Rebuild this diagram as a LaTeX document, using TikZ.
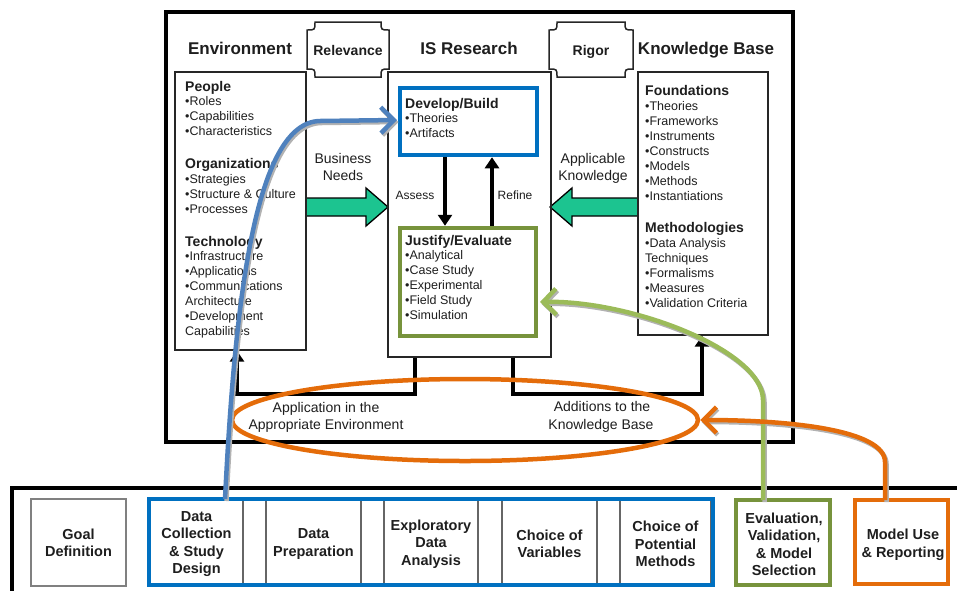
\documentclass[tikz,border=0pt]{standalone}
\usepackage{fontspec}
\setmainfont{Liberation Sans}
\usetikzlibrary{arrows.meta,shapes.geometric}
\definecolor{txt}{HTML}{1E1E1E}
\definecolor{boxblue}{HTML}{0070C0}
\definecolor{curveblue}{HTML}{4F81BD}
\definecolor{boxgreen}{HTML}{77933C}
\definecolor{curvegreen}{HTML}{9BBB59}
\definecolor{orng}{HTML}{E46C0A}
\definecolor{blockgreen}{HTML}{1CC490}
\begin{document}
\begin{tikzpicture}[x=1pt,y=-1pt,
  hd/.style={font=\fontsize{17}{20}\selectfont\bfseries, text=txt, inner sep=0, anchor=base},
  sub/.style={font=\fontsize{14}{15}\selectfont\bfseries, text=txt, inner sep=0, anchor=base west},
  itm/.style={font=\fontsize{12.5}{15}\selectfont, text=txt, inner sep=0, anchor=base west},
  lbl/.style={font=\fontsize{14}{16}\selectfont, text=txt, inner sep=0, anchor=base},
  small/.style={font=\fontsize{12}{14}\selectfont, text=txt, inner sep=0, anchor=base},
  tag/.style={font=\fontsize{14}{16}\selectfont\bfseries, text=txt, inner sep=0, anchor=base},
  frame/.style={draw=black, line width=4pt},
  panel/.style={draw=black!85, line width=1.3pt, rectangle, inner sep=0},
  colbox/.style={rectangle, line width=4.5pt, inner sep=0},
  plaque/.style={draw=black!85, line width=1.5pt},
  blockarrow/.style={fill=blockgreen, draw=black, line width=1.3pt},
  fb/.style={draw=black, line width=3.5pt, -{Triangle[length=11pt,width=14pt]}},
  stepbox/.style={rectangle, draw=black!60, line width=1.2pt, inner sep=0},
  steptxt/.style={inner sep=0, align=center, yshift=-2pt,
     font=\fontsize{14.5}{17.5}\selectfont\bfseries, text=txt},
  curve/.style={line width=4.5pt, -{Straight Barb[length=13pt,width=26pt]}},
  shadowline/.style={line width=4.5pt, draw=black!30, -{Straight Barb[length=13pt,width=26pt]}}
]
\useasboundingbox (0,0) rectangle (957,590);

% ---------- top frame ----------
\draw[frame] (166,12) rectangle (793,442);

% headings
\node[hd] (henv) at (240,54.5) {Environment};
\node[hd] (his) at (469,54.5) {IS Research};
\node[hd] (hkb) at (706,54.5) {Knowledge Base};

% plaques
\draw[plaque] (315,22) -- (381,22) .. controls (381,30) .. (389,30) -- (389,69)
  .. controls (381,69) .. (381,77) -- (315,77) .. controls (315,69) .. (307,69)
  -- (307,30) .. controls (315,30) .. (315,22) -- cycle;
\node[tag] (relev) at (348,55) {Relevance};
\draw[plaque] (557,22) -- (625,22) .. controls (625,30) .. (633,30) -- (633,69)
  .. controls (625,69) .. (625,77) -- (557,77) .. controls (557,69) .. (549,69)
  -- (549,30) .. controls (557,30) .. (557,22) -- cycle;
\node[tag] (rigor) at (591,55) {Rigor};

% block arrows
\draw[blockarrow] (306,198) -- (366,198) -- (366,188) -- (388,207) -- (366,226) -- (366,216) -- (306,216) -- cycle;
\draw[blockarrow] (638,198) -- (572,198) -- (572,188) -- (550,207) -- (572,226) -- (572,216) -- (638,216) -- cycle;

% panels
\node[panel, minimum width=131pt, minimum height=278pt] (env) at (240.5,211) {};
\node[panel, minimum width=163pt, minimum height=285pt] (isr) at (469.5,214.5) {};
\node[panel, minimum width=130pt, minimum height=263pt] (kb) at (703,203.5) {};
\node[colbox, draw=boxblue, minimum width=137pt, minimum height=67pt] (dev) at (468.5,121.5) {};
\node[colbox, draw=boxgreen, minimum width=136pt, minimum height=108pt] (just) at (468,282) {};

% environment texts
\node[sub] (people) at (185,91) {People};
\foreach \t [count=\i] in {•Roles,•Capabilities,•Characteristics}
  \node[itm] (peo\i) at (185,{90.5+15*\i}) {\t};
\node[sub] (orgs) at (185,168) {Organizations};
\foreach \t [count=\i] in {•Strategies,•Structure \& Culture,•Processes}
  \node[itm] (org\i) at (185,{168.5+15*\i}) {\t};
\node[sub] (tech) at (185,246) {Technology};
\foreach \t [count=\i] in {•Infrastructure,•Applications,•Communications,Architecture,•Development,Capabilities}
  \node[itm] (tec\i) at (185,{245.5+15*\i}) {\t};

% IS research texts
\node[sub] (devh) at (405,108) {Develop/Build};
\foreach \t [count=\i] in {•Theories,•Artifacts}
  \node[itm] (dv\i) at (405,{107.5+15*\i}) {\t};
\node[sub] (justh) at (405,245) {Justify/Evaluate};
\foreach \t [count=\i] in {•Analytical,•Case Study,•Experimental,•Field Study,•Simulation}
  \node[itm] (ju\i) at (405,{244.5+15*\i}) {\t};

% knowledge base texts
\node[sub] (found) at (645,95) {Foundations};
\foreach \t [count=\i] in {•Theories,•Frameworks,•Instruments,•Constructs,•Models,•Methods,•Instantiations}
  \node[itm] (fo\i) at (645,{95+15*\i}) {\t};
\node[sub] (meth) at (645,232) {Methodologies};
\foreach \t [count=\i] in {•Data Analysis,Techniques,•Formalisms,•Measures,•Validation Criteria}
  \node[itm] (me\i) at (645,{232.5+15*\i}) {\t};

% labels
\node[lbl] (bn1) at (343,163) {Business};
\node[lbl] (bn2) at (343,180) {Needs};
\node[lbl] (ak1) at (593,163) {Applicable};
\node[lbl] (ak2) at (593,180) {Knowledge};
\node[small] (assess) at (415,199.5) {Assess};
\node[small] (refine) at (515,199.5) {Refine};
\node[lbl] (ap1) at (326,412.7) {Application in the};
\node[lbl] (ap2) at (326,429) {Appropriate Environment};
\node[lbl] (ad1) at (602,411.7) {Additions to the};
\node[lbl] (ad2) at (601,429) {Knowledge Base};

% assess / refine
\coordinate (ax) at (445,0);
\coordinate (rx) at (492,0);
\draw[fb] (dev.south -| ax) -- (just.north -| ax);
\draw[fb] (just.north -| rx) -- (dev.south -| rx);

% feedback loops
\coordinate (fbLi) at (415,394);
\coordinate (fbL) at (237,394);
\coordinate (fbRi) at (513,394);
\coordinate (fbR) at (702,394);
\draw[fb] (fbLi |- isr.south) -- (fbLi) -- (fbL) -- (fbL |- env.south);
\draw[fb] (fbRi |- isr.south) -- (fbRi) -- (fbR) -- (fbR |- kb.south);

% ---------- bottom frame ----------
\draw[frame] (965,488) -- (12,488) -- (12,600);

\node[stepbox, draw=black!50, minimum width=95pt, minimum height=87pt] (goal) at (78.5,542.5) {};
\node[stepbox, minimum width=93pt, minimum height=86pt] (dcol) at (196.5,542) {};
\node[stepbox, minimum width=95pt, minimum height=86pt] (dprep) at (313.5,542) {};
\node[stepbox, minimum width=94pt, minimum height=86pt] (eda) at (431,542) {};
\node[stepbox, minimum width=95pt, minimum height=86pt] (cvar) at (549.5,542) {};
\node[stepbox, minimum width=91pt, minimum height=86pt] (cmeth) at (665.5,542) {};
\node[colbox, draw=boxblue, minimum width=564pt, minimum height=86pt] (grp) at (431,542) {};
\node[colbox, draw=boxgreen, minimum width=94pt, minimum height=85pt] (evalb) at (783,542.5) {};
\node[colbox, draw=orng, minimum width=93pt, minimum height=84pt] (model) at (901.5,542) {};

\node[steptxt, yshift=1.5pt] (goalt) at (goal) {Goal\\Definition};
\node[steptxt] (dcolt) at (dcol) {Data\\Collection\\\& Study\\Design};
\node[steptxt] (dprept) at (dprep) {Data\\Preparation};
\node[steptxt] (edat) at (eda) {Exploratory\\Data\\Analysis};
\node[steptxt] (cvart) at (cvar) {Choice of\\Variables};
\node[steptxt] (cmetht) at (cmeth) {Choice of\\Potential\\Methods};
\node[steptxt, xshift=1pt] (evalt) at (evalb) {Evaluation,\\Validation,\\\& Model\\Selection};
\node[steptxt, xshift=1.5pt, yshift=-1pt] (modelt) at (model) {Model Use\\\& Reporting};

% orange ellipse
\node[ellipse, draw=orng, line width=4.5pt, minimum width=466pt, minimum height=82pt, inner sep=0] (oval) at (465,420) {};

% ---------- curved arrows ----------
\coordinate (bstart) at (225,499);
\coordinate (btip) at (397,120);
\coordinate (gstart) at (763,500);
\coordinate (gtip) at (540,302);
\coordinate (ostart) at (885,500);
% soft shadows
\draw[shadowline] (226.5,501) .. controls (236.5,302) and (256.5,124) .. (321.5,123) -- (398.5,122);
\draw[shadowline] (764.5,502) -- (764.5,402) .. controls (764.5,352) and (631.5,302) .. (541.5,304);
\draw[shadowline] (886.5,502) -- (886.5,464) .. controls (886.5,432) and (791.5,422) .. (701.5,422);
% curves
\draw[curve, draw=curveblue] (bstart) .. controls (235,300) and (255,122) .. (320,121) -- (btip);
\draw[curve, draw=curvegreen] (gstart) -- (763,400) .. controls (763,350) and (630,300) .. (gtip);
\draw[curve, draw=orng] (ostart) -- (885,462) .. controls (885,430) and (790,420) .. (oval.east);
\end{tikzpicture}
\end{document}
